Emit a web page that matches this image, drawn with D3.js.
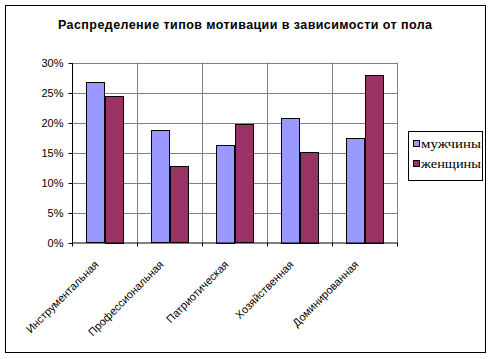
<!DOCTYPE html>
<html>
<head>
<meta charset="utf-8">
<script src="https://cdn.jsdelivr.net/npm/d3@7"></script>
<style>
  body { margin: 0; background: #fff; }
  svg { display: block; }
</style>
</head>
<body>
<svg id="chart" width="493" height="359"></svg>
<script>
const categories = ['Инструментальная', 'Профессиональная', 'Патриотическая', 'Хозяйственная', 'Доминированная'];
const seriesNames = ['мужчины', 'женщины'];
const men = [26.7, 18.7, 16.3, 20.8, 17.5];
const women = [24.5, 12.7, 19.7, 15.1, 28.0];
const yTicks = [0, 5, 10, 15, 20, 25, 30];
const colors = ['#9999FF', '#993366'];

const svg = d3.select('#chart');
const plot = { left: 72, right: 397, top: 62.5, bottom: 242.5 };

// outer frame
svg.append('rect')
    .attr('x', 5.5).attr('y', 5.5)
    .attr('width', 480).attr('height', 347)
    .attr('fill', '#fff')
    .attr('stroke', '#000')
    .attr('stroke-width', 1);

// title
svg.append('text')
    .attr('x', 58)
    .attr('y', 29)
    .attr('textLength', 374)
    .attr('lengthAdjust', 'spacing')
    .style('font-family', 'Arial, "Liberation Sans", sans-serif')
    .style('font-weight', 'bold')
    .style('font-size', '12.5px')
    .text('Распределение типов мотивации в зависимости от пола');

const x = d3.scaleBand()
    .domain(categories)
    .range([plot.left, plot.right]);

const xInner = d3.scaleBand()
    .domain(seriesNames)
    .range([0, x.bandwidth()])
    .paddingOuter(0.37 / (1 - 0.37) * 1.35)
    .paddingInner(0);

const y = d3.scaleLinear()
    .domain([0, 30])
    .range([plot.bottom, plot.top]);

// horizontal gridlines
svg.append('g')
    .selectAll('line')
    .data(yTicks.slice(1))
    .join('line')
    .attr('x1', plot.left).attr('x2', plot.right)
    .attr('y1', d => Math.round(y(d)) + 0.5)
    .attr('y2', d => Math.round(y(d)) + 0.5)
    .attr('stroke', '#808080');

// vertical gridlines at category boundaries
svg.append('g')
    .selectAll('line')
    .data(categories.map(c => x(c) + x.bandwidth()))
    .join('line')
    .attr('x1', d => Math.round(d) + 0.5).attr('x2', d => Math.round(d) + 0.5)
    .attr('y1', plot.top).attr('y2', plot.bottom)
    .attr('stroke', '#808080');

// bars
const rows = categories.map((c, i) => ({ cat: c, values: [men[i], women[i]] }));
const groups = svg.append('g')
    .selectAll('g')
    .data(rows)
    .join('g')
    .attr('transform', d => `translate(${x(d.cat)},0)`);

groups.selectAll('rect')
    .data(d => d.values.map((v, i) => ({ name: seriesNames[i], v, i })))
    .join('rect')
    .attr('x', d => Math.round(xInner(d.name)) + 0.5)
    .attr('width', d => Math.round(xInner.bandwidth()))
    .attr('y', d => Math.round(y(d.v)) + 0.5)
    .attr('height', d => Math.round(plot.bottom - y(d.v)))
    .attr('fill', d => colors[d.i])
    .attr('stroke', '#000')
    .attr('stroke-width', 1);

// y axis
const yAxis = d3.axisLeft(y)
    .tickValues(yTicks)
    .tickFormat(d => `${d}%`)
    .tickSize(4)
    .tickPadding(5);

const yg = svg.append('g')
    .attr('transform', `translate(${plot.left + 0.5},0.5)`)
    .call(yAxis);
yg.select('.domain').attr('d', `M0,${plot.top}V${plot.bottom}`);
yg.selectAll('text')
    .style('font-family', 'Arial, "Liberation Sans", sans-serif')
    .style('font-size', '11px')
    .attr('fill', '#000');

// x axis line and ticks
const xg = svg.append('g');
xg.append('line')
    .attr('x1', plot.left).attr('x2', plot.right + 1)
    .attr('y1', plot.bottom + 0.5).attr('y2', plot.bottom + 0.5)
    .attr('stroke', '#000');
xg.selectAll('.tick')
    .data([plot.left].concat(categories.map(c => x(c) + x.bandwidth())))
    .join('line')
    .attr('class', 'tick')
    .attr('x1', d => Math.round(d) + 0.5).attr('x2', d => Math.round(d) + 0.5)
    .attr('y1', plot.bottom).attr('y2', plot.bottom + 4)
    .attr('stroke', '#000');

// rotated category labels
xg.selectAll('text')
    .data(categories)
    .join('text')
    .attr('transform', d => `translate(${x(d) + x.bandwidth() / 2 - 8},${plot.bottom + 20}) rotate(-45)`)
    .attr('text-anchor', 'end')
    .attr('dy', '0.35em')
    .style('font-family', 'Arial, "Liberation Sans", sans-serif')
    .style('font-size', '11px')
    .text(d => d);

// legend
const legend = svg.append('g').attr('transform', 'translate(408.5,131.5)');
legend.append('rect')
    .attr('width', 74).attr('height', 49)
    .attr('fill', '#fff')
    .attr('stroke', '#000');
const items = legend.selectAll('g')
    .data(seriesNames)
    .join('g')
    .attr('transform', (d, i) => `translate(5,${12 + i * 20})`);
items.append('rect')
    .attr('width', 6).attr('height', 6)
    .attr('y', -3)
    .attr('fill', (d, i) => colors[i])
    .attr('stroke', '#000');
items.append('text')
    .attr('x', 7.5)
    .attr('dy', '0.35em')
    .attr('textLength', 60)
    .attr('lengthAdjust', 'spacingAndGlyphs')
    .style('font-family', '"Liberation Serif", "Times New Roman", serif')
    .style('font-size', '13px')
    .text(d => d);
</script>
</body>
</html>
